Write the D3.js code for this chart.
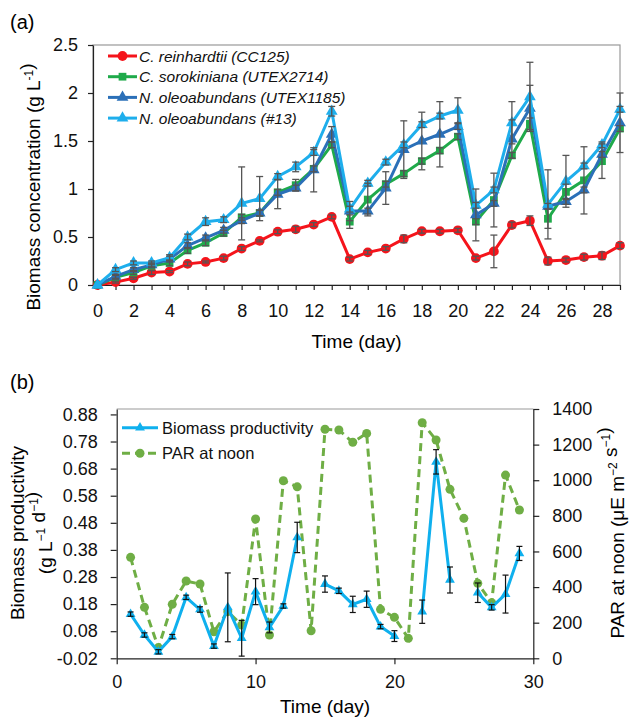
<!DOCTYPE html>
<html>
<head>
<meta charset="utf-8">
<script src="https://cdn.jsdelivr.net/npm/d3@7"></script>
<style>
body { margin: 0; background: #fff; }
svg { font-family: "Liberation Sans", Arial, sans-serif; }
</style>
</head>
<body>
<div class="chart"></div>
<script>
// DATA ------------------------------------------

// panel (a): biomass concentration, g/L, days 0..29
const days = [0,1,2,3,4,5,6,7,8,9,10,11,12,13,14,15,16,17,18,19,20,21,22,23,24,25,26,27,28,29];
const reinhardtii = [0,0.03,0.07,0.13,0.14,0.22,0.24,0.28,0.38,0.46,0.555,0.58,0.63,0.71,0.27,0.34,0.38,0.48,0.56,0.56,0.57,0.28,0.35,0.625,0.67,0.25,0.26,0.29,0.305,0.41];
const sorokiniana = [0,0.08,0.13,0.2,0.23,0.36,0.44,0.54,0.705,0.75,0.965,1.04,1.21,1.46,0.66,0.89,1.05,1.16,1.29,1.40,1.545,0.66,0.885,1.35,1.68,0.69,0.97,1.09,1.29,1.63];
const utex1185 = [0,0.09,0.16,0.21,0.27,0.41,0.49,0.57,0.67,0.75,0.945,1.01,1.2,1.57,0.77,0.77,1.01,1.41,1.5,1.57,1.65,0.73,0.85,1.52,1.84,0.82,0.87,0.99,1.36,1.69];
const strain13 = [0,0.16,0.23,0.23,0.285,0.5,0.66,0.68,0.85,0.9,1.13,1.23,1.38,1.81,0.79,1.06,1.28,1.46,1.67,1.76,1.82,0.83,0.99,1.69,1.96,0.84,1.08,1.24,1.46,1.83];

const reinhardtiiErr = [0,0.01,0.01,0.02,0.01,0.02,0.01,0.02,0.02,0.01,0.02,0.03,0.02,0.02,0.02,0.02,0.02,0.04,0.02,0.02,0.02,0.02,0.17,0.03,0.05,0.04,0.02,0.03,0.04,0.03];
const sorokinianaErr = [0,0.02,0.02,0.02,0.03,0.03,0.03,0.03,0.03,0.03,0.03,0.06,0.03,0.03,0.07,0.17,0.03,0.03,0.03,0.03,0.03,0.03,0.28,0.03,0.06,0.1,0.08,0.35,0.18,0.03];
const utex1185Err = [0,0.02,0.02,0.02,0.03,0.03,0.03,0.03,0.03,0.03,0.15,0.03,0.23,0.08,0.1,0.03,0.17,0.3,0.3,0.34,0.03,0.27,0.03,0.2,0.24,0.03,0.03,0.03,0.03,0.31];
const strain13Err = [0,0.02,0.02,0.02,0.03,0.03,0.04,0.03,0.38,0.23,0.03,0.05,0.03,0.05,0.03,0.03,0.03,0.03,0.03,0.03,0.13,0.03,0.03,0.22,0.36,0.36,0.27,0.03,0.03,0.03];

const aYTicks = [0,0.5,1,1.5,2,2.5];

// panel (b): productivity (g/L/d) and PAR at noon, days 1..29
const bDays = [1,2,3,4,5,6,7,8,9,10,11,12,13,14,15,16,17,18,19,20,21,22,23,24,25,26,27,28,29];
const productivity = [0.143,0.066,0.004,0.06,0.205,0.16,0.025,0.168,0.054,0.226,0.094,0.173,0.426,null,0.254,0.229,0.179,0.198,0.097,0.062,null,0.152,0.705,0.269,null,0.222,0.168,0.217,0.367];
const productivityErr = [0.008,0.008,0.008,0.008,0.008,0.01,0.008,0.127,0.066,0.048,0.02,0.008,0.056,null,0.03,0.01,0.03,0.03,0.008,0.02,null,0.043,0.045,0.048,null,0.036,0.01,0.07,0.026];
const par = [567,286,60,303,434,417,149,262,187,782,131,997,963,155,1286,1282,1213,1263,275,230,112,1323,1226,949,786,421,312,1029,833];

const bLeftTicks = [-0.02,0.08,0.18,0.28,0.38,0.48,0.58,0.68,0.78,0.88];
const bRightTicks = [0,200,400,600,800,1000,1200,1400];
const bXTicks = [0,10,20,30];

// CHART -----------------------------------------

const svg = d3.select('.chart')
    .append('svg')
    .attr('width', 629)
    .attr('height', 721);

function styleAxis(g, size) {
    g.selectAll('path, line').attr('stroke', '#222').attr('stroke-width', 1.2);
    g.selectAll('text').attr('font-size', size).attr('fill', '#111');
}

// superscript helper for axis titles
function addSup(t, parts) {
    parts.forEach(p => {
        if (p.sup) {
            t.append('tspan').attr('dy', -7).attr('font-size', 12).text(p.sup);
            t.append('tspan').attr('dy', 7).text('');
        } else {
            t.append('tspan').text(p.txt);
        }
    });
}

// ---------- panel (a)
const xA = d3.scaleLinear().domain([-0.25, 29]).range([93, 620]);
const yA = d3.scaleLinear().domain([0, 2.5]).range([285, 45]);

svg.append('rect')
    .attr('x', xA(-0.25)).attr('y', yA(2.5))
    .attr('width', xA(29) - xA(-0.25)).attr('height', yA(0) - yA(2.5))
    .attr('fill', 'none').attr('stroke', '#999').attr('stroke-width', 1.2);

const xAxisA = svg.append('g')
    .attr('transform', `translate(0,${yA(0)})`)
    .call(d3.axisBottom(xA).tickValues(days).tickSize(5).tickSizeOuter(0).tickPadding(14)
        .tickFormat(d => d % 2 === 0 ? d : ''));
styleAxis(xAxisA, 18);

const yAxisA = svg.append('g')
    .attr('transform', `translate(${xA(-0.25)},0)`)
    .call(d3.axisLeft(yA).tickValues(aYTicks).tickSize(5).tickSizeOuter(0).tickPadding(10)
        .tickFormat(d => String(d)));
styleAxis(yAxisA, 18);

const seriesA = [
    {name: 'C. reinhardtii (CC125)', vals: reinhardtii, err: reinhardtiiErr, color: '#f5141b', sym: d3.symbolCircle, size: 75},
    {name: 'C. sorokiniana (UTEX2714)', vals: sorokiniana, err: sorokinianaErr, color: '#1faa4a', sym: d3.symbolSquare, size: 60},
    {name: 'N. oleoabundans (UTEX1185)', vals: utex1185, err: utex1185Err, color: '#2b70b8', sym: d3.symbolTriangle, size: 60},
    {name: 'N. oleoabundans (#13)', vals: strain13, err: strain13Err, color: '#1eaeec', sym: d3.symbolTriangle, size: 60}
];

const lineA = d3.line().x((d, i) => xA(days[i])).y(d => yA(d));

seriesA.forEach(s => {
    svg.append('path')
        .attr('d', lineA(s.vals))
        .attr('fill', 'none').attr('stroke', s.color).attr('stroke-width', 3)
        .attr('stroke-linejoin', 'round');
    svg.append('g').selectAll('path')
        .data(s.vals)
        .enter().append('path')
        .attr('d', d3.symbol().type(s.sym).size(s.size))
        .attr('transform', (d, i) => `translate(${xA(days[i])},${yA(d)})`)
        .attr('fill', s.color);
});

// error bars on top
seriesA.forEach(s => {
    const eb = svg.append('g').attr('stroke', '#555').attr('stroke-width', 1.3);
    s.vals.forEach((v, i) => {
        const e = s.err[i];
        if (!e) return;
        const x = xA(days[i]);
        eb.append('line').attr('x1', x).attr('x2', x).attr('y1', yA(v - e)).attr('y2', yA(v + e));
        eb.append('line').attr('x1', x - 3.5).attr('x2', x + 3.5).attr('y1', yA(v - e)).attr('y2', yA(v - e));
        eb.append('line').attr('x1', x - 3.5).attr('x2', x + 3.5).attr('y1', yA(v + e)).attr('y2', yA(v + e));
    });
});

// legend (a)
const legA = svg.append('g');
seriesA.forEach((s, i) => {
    const y = 56 + i * 20.7;
    legA.append('line').attr('x1', 108).attr('x2', 137).attr('y1', y).attr('y2', y)
        .attr('stroke', s.color).attr('stroke-width', 3);
    legA.append('path').attr('d', d3.symbol().type(s.sym).size(s.size))
        .attr('transform', `translate(122.5,${y})`).attr('fill', s.color);
    legA.append('text').attr('x', 139).attr('y', y + 5.5)
        .attr('font-size', 15.5).attr('font-style', 'italic').attr('fill', '#111')
        .text(s.name);
});

svg.append('text').attr('x', 10).attr('y', 29).attr('font-size', 20).text('(a)');
svg.append('text').attr('x', (xA(-0.25) + xA(29)) / 2).attr('y', 348)
    .attr('text-anchor', 'middle').attr('font-size', 19).text('Time (day)');

const titleA = svg.append('text')
    .attr('transform', 'translate(40,187) rotate(-90)')
    .attr('text-anchor', 'middle').attr('font-size', 19);
addSup(titleA, [{txt: 'Biomass concentration (g L'}, {sup: '-1'}, {txt: ')'}]);

// ---------- panel (b)
const xB = d3.scaleLinear().domain([0, 30]).range([116.7, 533.3]);
const yB = d3.scaleLinear().domain([-0.02, 0.9]).range([658.3, 409]);
const yR = d3.scaleLinear().domain([0, 1400]).range([658.3, 409]);

svg.append('line')
    .attr('x1', xB(0)).attr('x2', xB(30)).attr('y1', yB(0.9)).attr('y2', yB(0.9))
    .attr('stroke', '#999').attr('stroke-width', 1.2);

const xAxisB = svg.append('g')
    .attr('transform', `translate(0,${yB(-0.02)})`)
    .call(d3.axisBottom(xB).tickValues(bXTicks).tickSize(6).tickSizeOuter(0).tickPadding(11));
styleAxis(xAxisB, 18);

const yAxisB = svg.append('g')
    .attr('transform', `translate(${xB(0)},0)`)
    .call(d3.axisLeft(yB).tickValues(bLeftTicks).tickSize(6).tickSizeOuter(0).tickPadding(13)
        .tickFormat(d => d.toFixed(2)));
styleAxis(yAxisB, 18);

const yAxisR = svg.append('g')
    .attr('transform', `translate(${xB(30)},0)`)
    .call(d3.axisRight(yR).tickValues(bRightTicks).tickSize(6).tickSizeOuter(0).tickPadding(13)
        .tickFormat(d => String(d)));
styleAxis(yAxisR, 18);

const bBlue = '#0fb0ee';
const bGreen = '#6fae45';

// PAR (dashed)
const lineR = d3.line().x((d, i) => xB(bDays[i])).y(d => yR(d));
svg.append('path')
    .attr('d', lineR(par))
    .attr('fill', 'none').attr('stroke', bGreen).attr('stroke-width', 3)
    .attr('stroke-dasharray', '8,5');
svg.append('g').selectAll('circle')
    .data(par)
    .enter().append('circle')
    .attr('cx', (d, i) => xB(bDays[i]))
    .attr('cy', d => yR(d))
    .attr('r', 4.5)
    .attr('fill', bGreen);

// productivity (with gaps)
const lineB = d3.line().defined(d => d != null).x((d, i) => xB(bDays[i])).y(d => yB(d));
svg.append('path')
    .attr('d', lineB(productivity))
    .attr('fill', 'none').attr('stroke', bBlue).attr('stroke-width', 3)
    .attr('stroke-linejoin', 'round');
svg.append('g').selectAll('path')
    .data(productivity.map((v, i) => ({v, day: bDays[i]})).filter(d => d.v != null))
    .enter().append('path')
    .attr('d', d3.symbol().type(d3.symbolTriangle).size(42))
    .attr('transform', d => `translate(${xB(d.day)},${yB(d.v)})`)
    .attr('fill', bBlue);

const ebB = svg.append('g').attr('stroke', '#111').attr('stroke-width', 1.2);
productivity.forEach((v, i) => {
    const e = productivityErr[i];
    if (v == null || !e) return;
    const x = xB(bDays[i]);
    ebB.append('line').attr('x1', x).attr('x2', x).attr('y1', yB(v - e)).attr('y2', yB(v + e));
    ebB.append('line').attr('x1', x - 3).attr('x2', x + 3).attr('y1', yB(v - e)).attr('y2', yB(v - e));
    ebB.append('line').attr('x1', x - 3).attr('x2', x + 3).attr('y1', yB(v + e)).attr('y2', yB(v + e));
});

// legend (b)
const legB = svg.append('g');
legB.append('line').attr('x1', 122).attr('x2', 158).attr('y1', 427.7).attr('y2', 427.7)
    .attr('stroke', bBlue).attr('stroke-width', 3);
legB.append('path').attr('d', d3.symbol().type(d3.symbolTriangle).size(42))
    .attr('transform', 'translate(140,427.7)').attr('fill', bBlue);
legB.append('text').attr('x', 162).attr('y', 433.5).attr('font-size', 16.5).attr('fill', '#111')
    .text('Biomass productivity');
legB.append('line').attr('x1', 122).attr('x2', 158).attr('y1', 453.3).attr('y2', 453.3)
    .attr('stroke', bGreen).attr('stroke-width', 3).attr('stroke-dasharray', '8,5');
legB.append('circle').attr('cx', 140).attr('cy', 453.3).attr('r', 4.5).attr('fill', bGreen);
legB.append('text').attr('x', 162).attr('y', 459).attr('font-size', 16.5).attr('fill', '#111')
    .text('PAR at noon');

svg.append('text').attr('x', 10).attr('y', 389).attr('font-size', 20).text('(b)');
svg.append('text').attr('x', (xB(0) + xB(30)) / 2).attr('y', 713)
    .attr('text-anchor', 'middle').attr('font-size', 19).text('Time (day)');

svg.append('text')
    .attr('transform', 'translate(24,533) rotate(-90)')
    .attr('text-anchor', 'middle').attr('font-size', 19)
    .text('Biomass productivity');
const titleB2 = svg.append('text')
    .attr('transform', 'translate(52,533) rotate(-90)')
    .attr('text-anchor', 'middle').attr('font-size', 19);
addSup(titleB2, [{txt: '(g L'}, {sup: '\u22121'}, {txt: ' d'}, {sup: '\u22121'}, {txt: ')'}]);

const titleR = svg.append('text')
    .attr('transform', 'translate(624,533) rotate(-90)')
    .attr('text-anchor', 'middle').attr('font-size', 19);
addSup(titleR, [{txt: 'PAR at noon (\u03bcE m'}, {sup: '\u22122'}, {txt: ' s'}, {sup: '\u22121'}, {txt: ')'}]);
</script>
</body>
</html>
